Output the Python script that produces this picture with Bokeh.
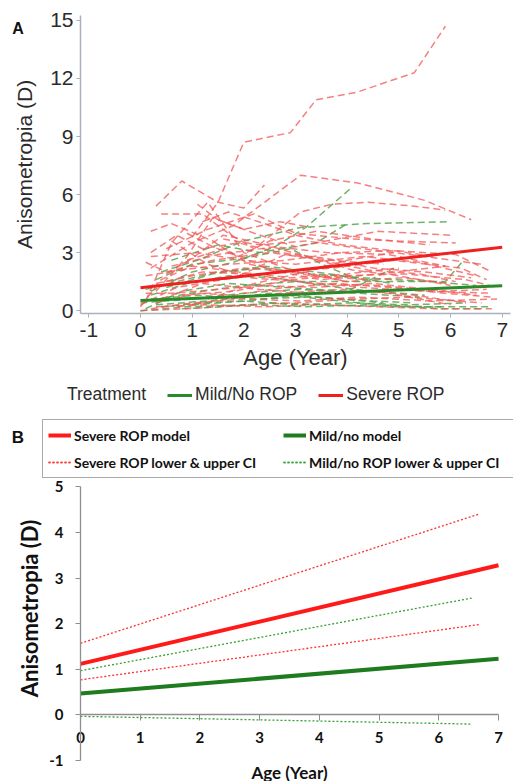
from bokeh.plotting import figure
from bokeh.layouts import column
from bokeh.models import Legend, LegendItem, Label, FixedTicker, Range1d, LinearAxis
from bokeh.embed import file_html
from bokeh.resources import INLINE

# ---------------- Panel A data (individual trajectories) ----------------
severe_ages = [
    [1.0, 1.5, 2.0, 2.35, 2.9, 3.4, 4.2, 5.3, 5.9],
    [0.3, 0.8, 1.5, 2.0, 2.4],
    [0.2, 1.0, 1.8, 3.1, 4.2, 5.5, 6.4],
    [0.4, 1.2, 1.7, 2.2, 3.1, 3.7, 4.4, 5.3, 5.9],
    [0.1, 0.6, 1.3, 1.6, 2.0, 2.8, 4.0],
    [0.3, 0.9, 1.4, 2.2, 3.0, 4.6, 6.0],
    [0.2, 1.1, 2.0, 3.0, 4.3, 5.4, 6.5],
    [0.5, 1.2, 2.1, 3.3, 4.6, 5.8, 6.7],
    [0.0, 0.7, 1.6, 2.6, 3.7, 4.9, 6.2, 6.7],
    [0.2, 1.0, 2.0, 3.1, 4.2, 5.6, 6.9],
    [0.9, 1.4, 1.9, 2.5, 3.4, 4.5, 5.6],
    [0.4, 1.2, 2.3, 3.3, 4.4, 5.3, 6.3],
    [0.6, 1.5, 2.6, 3.6, 4.8, 5.9],
    [0.1, 0.8, 1.7, 2.8, 3.9, 4.9, 6.1, 6.8],
    [0.3, 1.3, 2.4, 3.5, 4.6, 5.7, 6.8],
    [1.1, 1.5, 2.0, 2.7, 3.3],
    [0.5, 1.3, 2.2, 3.0, 4.1, 5.0, 6.1],
    [0.8, 1.8, 2.9, 3.9, 5.1, 6.3, 6.9],
    [0.0, 0.9, 2.0, 3.0, 4.1, 5.2, 6.6],
    [1.3, 2.2, 3.2, 4.0, 4.9],
    [0.2, 0.6, 1.4, 2.1, 3.3, 4.4],
    [1.6, 2.3, 3.2, 4.3, 5.5, 6.6],
    [0.3, 1.0, 2.0, 3.0, 4.0, 5.1, 6.0],
    [0.7, 1.7, 2.7, 3.9, 4.8, 6.0],
    [0.1, 0.5, 1.4, 2.5, 3.7, 4.7],
    [1.9, 2.8, 3.5, 4.4, 5.4, 6.1],
    [0.2, 0.7, 1.2, 1.9, 2.7, 3.6, 4.5, 5.5, 6.4],
    [0.5, 1.0, 1.6, 2.3, 3.2, 4.1, 5.0, 6.0],
    [0.1, 0.6, 1.5, 2.4, 3.4, 4.5, 5.6, 6.5],
    [0.9, 1.6, 2.5, 3.5, 4.6, 5.9],
    [0.3, 1.1, 1.8, 2.8, 3.8, 4.8, 5.9, 6.8],
    [1.2, 1.7, 2.4, 3.0, 3.9, 4.9, 5.7],
    [0.0, 0.4, 1.0, 1.9, 2.9, 4.0, 5.0],
    [0.6, 1.3, 2.1, 3.1, 4.3, 5.5, 6.8],
]
severe_values = [
    [3.8, 5.6, 8.7, 8.9, 9.2, 10.9, 11.3, 12.3, 14.7],
    [5.4, 6.7, 5.6, 5.3, 6.5],
    [2.2, 3.5, 4.4, 7.0, 6.6, 5.7, 4.7],
    [5.0, 5.0, 4.0, 3.2, 5.1, 5.5, 5.6, 5.4, 5.2],
    [0.5, 3.5, 5.6, 4.5, 3.0, 2.2, 1.5],
    [1.0, 2.8, 4.8, 4.0, 3.3, 4.1, 3.9],
    [2.8, 3.0, 2.6, 2.4, 2.8, 2.5, 1.8],
    [1.5, 2.0, 1.9, 1.4, 1.3, 1.0, 1.1],
    [0.3, 1.2, 1.6, 2.0, 2.2, 2.6, 2.2, 1.6],
    [0.1, 0.4, 0.6, 0.5, 0.7, 0.5, 0.6],
    [4.0, 3.3, 2.8, 3.6, 4.1, 3.7, 3.4],
    [0.6, 1.4, 1.1, 0.9, 1.0, 0.8, 0.4],
    [2.3, 2.9, 3.3, 3.0, 2.9, 2.3],
    [1.8, 2.1, 2.4, 2.6, 3.0, 3.1, 2.9, 2.0],
    [0.2, 0.3, 0.2, 0.3, 0.2, 0.1, 0.1],
    [5.5, 4.7, 4.2, 4.6, 4.3],
    [3.2, 4.2, 5.0, 4.0, 3.7, 3.6, 3.5],
    [0.8, 1.0, 1.6, 1.8, 1.9, 1.6, 1.2],
    [0.0, 0.1, 0.3, 0.4, 0.6, 0.7, 0.4],
    [0.6, 1.4, 2.0, 2.6, 3.0],
    [4.1, 4.5, 3.6, 2.4, 1.8, 1.6],
    [3.7, 3.4, 3.6, 3.2, 2.8, 2.4],
    [1.4, 1.8, 2.2, 2.0, 1.5, 1.7, 1.4],
    [0.2, 0.6, 0.9, 1.1, 0.9, 0.3],
    [2.5, 2.0, 2.6, 3.0, 2.6, 2.4],
    [1.8, 2.9, 2.6, 2.1, 1.9, 1.5],
    [3.0, 3.9, 3.2, 3.5, 3.0, 2.7, 2.2, 2.0, 1.7],
    [1.9, 2.7, 3.9, 3.5, 2.8, 2.1, 1.8, 1.3],
    [0.9, 0.9, 1.1, 1.3, 1.2, 1.4, 1.1, 0.8],
    [2.6, 3.2, 2.1, 1.6, 1.9, 2.3],
    [0.4, 0.9, 0.8, 1.2, 1.4, 1.2, 0.9, 0.7],
    [4.6, 5.1, 4.5, 3.9, 3.4, 3.1, 2.8],
    [0.2, 1.6, 2.3, 2.0, 1.7, 1.9, 2.2],
    [3.6, 2.4, 1.7, 1.5, 1.2, 1.0, 0.9],
]
mild_ages = [
    [0.2, 1.0, 1.8, 2.6, 3.2, 4.06],
    [0.4, 1.1, 2.0, 3.1, 4.4, 6.0],
    [0.3, 1.0, 2.0, 2.9, 3.6, 4.2],
    [0.1, 1.2, 2.0, 3.0, 4.5, 5.9, 6.25],
    [0.0, 0.9, 2.1, 3.2, 4.4, 5.6, 6.8],
    [0.2, 1.1, 2.2, 3.3, 4.5, 5.3],
    [0.5, 1.4, 2.4, 3.4, 4.9],
    [0.3, 1.3, 2.5, 3.5, 4.6, 5.8, 6.6],
    [0.1, 0.8, 1.7, 2.8, 4.0, 4.9],
    [1.0, 2.0, 3.0, 4.1, 5.2, 6.3],
    [0.6, 1.5, 2.3, 3.4, 4.0],
    [0.0, 1.0, 2.0, 3.1, 4.2, 5.4],
    [0.2, 0.9, 1.7, 2.6, 3.5, 4.5, 5.5],
    [0.4, 1.2, 2.1, 3.0, 3.9, 4.7],
    [0.1, 0.7, 1.5, 2.4, 3.3, 4.3, 5.6, 6.5],
    [0.8, 1.6, 2.6, 3.6, 4.8, 5.9],
]
mild_values = [
    [1.0, 2.0, 2.5, 3.3, 4.3, 6.3],
    [2.0, 2.6, 3.6, 4.3, 4.5, 4.6],
    [1.6, 2.4, 2.7, 3.2, 2.3, 1.6],
    [0.5, 1.0, 1.3, 1.5, 1.5, 1.5, 2.6],
    [0.0, 0.2, 0.3, 0.2, 0.3, 0.2, 0.2],
    [0.6, 0.8, 0.6, 0.7, 0.5, 0.4],
    [1.2, 1.9, 2.3, 2.0, 1.4],
    [0.3, 0.5, 0.9, 0.6, 0.3, 0.1, 0.1],
    [0.1, 1.0, 1.4, 1.2, 1.0, 2.2],
    [0.3, 0.5, 0.3, 0.4, 0.3, 0.4],
    [2.6, 3.4, 3.0, 3.5, 4.5],
    [0.4, 0.6, 0.9, 1.1, 0.9, 0.7],
    [0.8, 1.4, 1.8, 1.7, 1.3, 1.0, 0.8],
    [0.2, 0.4, 0.5, 0.8, 0.6, 0.4],
    [1.1, 1.5, 2.0, 2.2, 1.9, 1.7, 1.5, 1.3],
    [0.1, 0.2, 0.4, 0.3, 0.2, 0.2],
]
model_ages_a = [0, 7]
severe_model_a = [1.18, 3.28]
mild_model_a = [0.52, 1.28]
a_xticks = [-1, 0, 1, 2, 3, 4, 5, 6, 7]
a_yticks = [0, 3, 6, 9, 12, 15]

# ---------------- Panel B data (models and CIs) ----------------
model_ages_b = [0, 7]
severe_model_b = [1.12, 3.28]
mild_model_b = [0.47, 1.23]
severe_ci_ages = [0, 6.67]
severe_upper = [1.57, 4.40]
severe_lower = [0.77, 1.98]
mild_ci_ages = [0, 6.55]
mild_upper = [0.97, 2.56]
mild_lower = [-0.03, -0.20]
b_xticks = [0, 1, 2, 3, 4, 5, 6, 7]
b_yticks = [-1, 0, 1, 2, 3, 4, 5]

SANS = "Liberation Sans"
TXT = "#2b2b2b"
AXC = "#a9b1ba"

# ================= Panel A =================
# frame covers the whole canvas; axes are drawn at fixed locations
p1 = figure(width=513, height=415, x_range=Range1d(-2.708, 7.218), y_range=Range1d(-5.42, 16.03),
            output_backend="svg", toolbar_location=None,
            min_border_left=0, min_border_right=0, min_border_top=0, min_border_bottom=0)
p1.xgrid.visible = False
p1.ygrid.visible = False
p1.outline_line_color = None

p1.multi_line(xs=mild_ages, ys=mild_values, line_color="#4f9f45", line_alpha=0.8,
              line_width=1.5, line_dash="7 4")
p1.multi_line(xs=severe_ages, ys=severe_values, line_color="#f25555", line_alpha=0.75,
              line_width=1.5, line_dash="7 4")
g_model = p1.line(model_ages_a, mild_model_a, line_color="#2a8a2a", line_width=3)
r_model = p1.line(model_ages_a, severe_model_a, line_color="#f02020", line_width=3)
title_r = p1.line(model_ages_a, mild_model_a, line_alpha=0)

p1.xaxis.fixed_location = -0.15
p1.yaxis.fixed_location = -1.16
p1.xaxis.bounds = (-1.16, 7.16)
p1.yaxis.bounds = (-0.15, 15.25)
p1.xaxis.ticker = FixedTicker(ticks=a_xticks)
p1.yaxis.ticker = FixedTicker(ticks=a_yticks)
p1.xaxis.major_label_overrides = {-1: "-1"}
p1.xaxis.axis_label = "Age (Year)"
p1.yaxis.axis_label = "Anisometropia (D)"
for ax in (p1.xaxis[0], p1.yaxis[0]):
    ax.axis_line_color = AXC
    ax.axis_line_width = 1.5
    ax.major_tick_line_color = AXC
    ax.minor_tick_line_color = None
    ax.major_tick_in = 0
    ax.major_tick_out = 4
    ax.major_label_text_font = SANS
    ax.major_label_text_font_size = "21px"
    ax.major_label_text_color = TXT
    ax.axis_label_text_font = SANS
    ax.axis_label_text_font_style = "normal"
    ax.axis_label_text_color = TXT
p1.xaxis.major_label_standoff = 5
p1.xaxis.axis_label_standoff = 5
p1.xaxis.axis_label_text_font_size = "22px"
p1.yaxis.major_label_standoff = 3
p1.yaxis.axis_label_standoff = 11
p1.yaxis.axis_label_text_font_size = "21px"

leg1 = Legend(items=[LegendItem(label="Treatment", renderers=[title_r]),
                     LegendItem(label="Mild/No ROP", renderers=[g_model]),
                     LegendItem(label="Severe ROP", renderers=[r_model])],
              orientation="horizontal", location=(39, 10), padding=0, margin=0,
              spacing=21, glyph_width=25, glyph_height=20, label_standoff=3,
              label_text_font=SANS, label_text_font_size="17.5px", label_text_color=TXT,
              border_line_color=None, background_fill_alpha=0)
p1.add_layout(leg1)
p1.add_layout(Label(x=17.5, y=387, x_units="screen", y_units="screen", text="A",
                    text_align="center", text_baseline="middle", text_font=SANS,
                    text_font_style="bold", text_font_size="16px", text_color="#111111"))

# ================= Panel B =================
BF = "Lato"
p2 = figure(width=513, height=366, x_range=Range1d(-1.3396, 7.2507), y_range=Range1d(-1.458, 6.562),
            output_backend="svg", toolbar_location=None,
            min_border_left=0, min_border_right=0, min_border_top=0, min_border_bottom=0)
p2.xgrid.visible = False
p2.ygrid.visible = False
p2.outline_line_color = None

su = p2.line(severe_ci_ages, severe_upper, line_color="#ff3030", line_width=1.3, line_dash="2 2")
sl = p2.line(severe_ci_ages, severe_lower, line_color="#ff3030", line_width=1.3, line_dash="2 2")
mu = p2.line(mild_ci_ages, mild_upper, line_color="#35a035", line_width=1.3, line_dash="2 2")
ml = p2.line(mild_ci_ages, mild_lower, line_color="#35a035", line_width=1.3, line_dash="2 2")
sm = p2.line(model_ages_b, severe_model_b, line_color="#ff1a1a", line_width=4)
mm = p2.line(model_ages_b, mild_model_b, line_color="#1e7b1e", line_width=4)

p2.xaxis.ticker = FixedTicker(ticks=b_xticks)
p2.yaxis.ticker = FixedTicker(ticks=b_yticks)
p2.xaxis.fixed_location = 0
p2.yaxis.fixed_location = 0
p2.xaxis.bounds = (0, 7)
p2.yaxis.bounds = (-1, 5)
p2.xaxis.axis_label = "Age (Year)"
for ax in (p2.xaxis[0], p2.yaxis[0]):
    ax.axis_line_color = "#8f8f8f"
    ax.axis_line_width = 1.3
    ax.major_tick_line_color = "#8f8f8f"
    ax.minor_tick_line_color = None
    ax.major_tick_in = 0
    ax.major_label_text_font = BF
    ax.major_label_text_font_style = "bold"
    ax.major_label_text_font_size = "15px"
    ax.major_label_text_color = "#111111"
    ax.axis_label_text_font = BF
    ax.axis_label_text_font_style = "bold"
    ax.axis_label_text_color = "#111111"
p2.xaxis.major_tick_out = 6
p2.xaxis.major_label_standoff = 11
p2.xaxis.axis_label_standoff = 16
p2.xaxis.axis_label_text_font_size = "17px"
p2.yaxis.major_tick_out = 5
p2.yaxis.major_label_standoff = 12
p2.yaxis.major_label_overrides = {-1: "-1"}

# separate label-only axis so the y title sits where the reference has it
ylab = LinearAxis(fixed_location=0, bounds=(-0.35, 5), ticker=FixedTicker(ticks=[]),
                  axis_line_color=None, major_tick_line_color=None, minor_tick_line_color=None,
                  axis_label="Anisometropia (D)", axis_label_standoff=38,
                  axis_label_text_font=BF, axis_label_text_font_style="bold",
                  axis_label_text_font_size="22px", axis_label_text_color="#111111")
p2.add_layout(ylab, "left")

leg2 = Legend(items=[LegendItem(label="Severe ROP model", renderers=[sm]),
                     LegendItem(label="Mild/no model", renderers=[mm]),
                     LegendItem(label="Severe ROP lower & upper CI", renderers=[su, sl]),
                     LegendItem(label="Mild/no ROP lower & upper CI", renderers=[mu, ml])],
              orientation="horizontal", ncols=2, location=(42, 303), padding=5, margin=0,
              spacing=7, glyph_width=23, glyph_height=20, label_standoff=3,
              label_width=202, label_height=20,
              label_text_font=BF, label_text_font_style="bold", label_text_font_size="14px",
              label_text_color="#111111",
              border_line_color="#555555", border_line_width=1, background_fill_alpha=0)
p2.add_layout(leg2)
p2.add_layout(Label(x=17.5, y=344, x_units="screen", y_units="screen", text="B",
                    text_align="center", text_baseline="middle", text_font=SANS,
                    text_font_style="bold", text_font_size="17px", text_color="#111111"))

layout = column(p1, p2, spacing=0)
open("out.html", "w").write(file_html(layout, INLINE))
